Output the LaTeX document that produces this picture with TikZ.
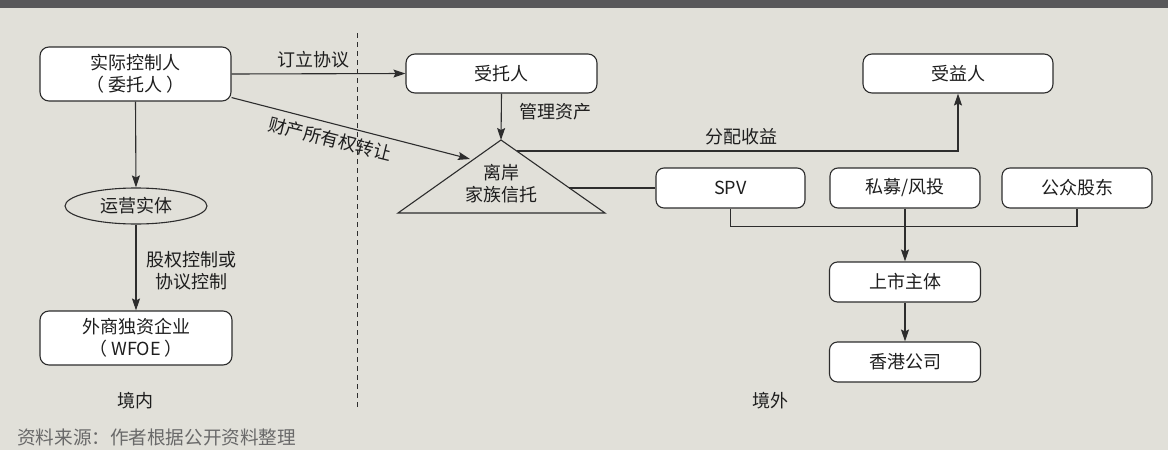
\documentclass[tikz,border=0pt]{standalone}
\usepackage{fontspec}
\setmainfont{Noto Sans CJK SC}
\usetikzlibrary{arrows.meta,calc,shapes.geometric}
\definecolor{bg}{RGB}{225,224,217}
\definecolor{band}{RGB}{88,88,90}
\definecolor{ln}{RGB}{45,45,45}
\definecolor{txt}{RGB}{30,30,30}
\definecolor{src}{RGB}{105,105,105}
\begin{document}
\begin{tikzpicture}[x=1pt,y=-1pt,
  box/.style={draw=ln, line width=1.1pt, fill=white, rounded corners=9pt, inner sep=0pt, align=center, text=txt, font=\fontsize{18}{22}\selectfont},
  lbl/.style={text=txt, font=\fontsize{18}{22}\selectfont, inner sep=0pt, align=center},
  conn/.style={draw=ln, line width=1.1pt},
  arr/.style={conn, -{Stealth[length=12pt,width=8pt,inset=2pt]}}]
\fill[bg] (0,0) rectangle (1168,450);
\fill[band] (0,0) rectangle (1168,8);
\useasboundingbox (0,0) rectangle (1168,450);
% dashed border line
\coordinate (dTop) at (357,33);
\coordinate (dBot) at (357,408);
\draw[ln, line width=0.9pt, dash pattern=on 5pt off 4pt] (dTop) -- (dBot);
% nodes
\node[box, minimum width=191pt, minimum height=54pt] (ctrl) at (135.5,74) {实际控制人\\（ 委托人 ）};
\node[box, minimum width=191pt, minimum height=39pt] (trustee) at (501.5,73.5) {受托人};
\node[box, minimum width=190pt, minimum height=39pt] (benef) at (958,73.5) {受益人};
\node[box, minimum width=149pt, minimum height=40pt, rounded corners=8pt] (spv) at (730.5,188) {SPV};
\node[box, minimum width=150pt, minimum height=40pt, rounded corners=8pt] (pe) at (905,188) {私募/风投};
\node[box, minimum width=150pt, minimum height=40pt, rounded corners=8pt] (pub) at (1077,188) {公众股东};
\node[box, minimum width=151pt, minimum height=40pt, rounded corners=8pt] (listed) at (905,282) {上市主体};
\node[box, minimum width=151pt, minimum height=40pt, rounded corners=8pt] (hk) at (905,362) {香港公司};
\node[box, minimum width=192pt, minimum height=54pt] (wfoe) at (136,338) {外商独资企业\\（ WFOE ）};
\node[ellipse, draw=ln, line width=1.1pt, minimum width=142pt, minimum height=36pt, inner sep=0pt, text=txt, font=\fontsize{18}{22}\selectfont] (op) at (136,206) {运营实体};
% triangle
\coordinate (tA) at (501,140);
\coordinate (tL) at (398,213);
\coordinate (tR) at (605,213);
\draw[conn, line join=miter] (tA) -- (tL) -- (tR) -- cycle;
\node[lbl] (trust) at (501,184) {离岸\\家族信托};
\coordinate (tIn) at (470,159);
\coordinate (tOut) at ($(tA)!0.15!(tR)$);
\coordinate (tSide) at ($(tA)!0.658!(tR)$);
% connectors
\draw[arr] (ctrl.east) -- (trustee.west);
\draw[arr] ([yshift=4pt]ctrl.south east) -- (tIn);
\draw[arr] (trustee.south) -- (tA);
\draw[arr] (tOut) -| (benef.south);
\draw[conn] (tSide) -- (spv.west |- tSide);
\draw[arr] (ctrl.south) -- (op.north);
\draw[arr] (op.south) -- (wfoe.north);
\draw[conn] (spv.south) -- ++(0,18) -| (pub.south);
\draw[arr] (pe.south) -- (listed.north);
\draw[arr] (listed.south) -- (hk.north);
% labels
\node[lbl] (l1) at (313,60) {订立协议};
\node[lbl, rotate=-14] (l2) at (330,139) {财产所有权转让};
\node[lbl] (l3) at (555,112) {管理资产};
\node[lbl] (l4) at (741,137) {分配收益};
\node[lbl] (l5) at (191,271) {股权控制或\\协议控制};
\node[lbl] (l6) at (135,401) {境内};
\node[lbl] (l7) at (770,401) {境外};
\node[lbl, anchor=west, text=src, font=\fontsize{18.6}{22}\selectfont] (srcnote) at (17,437) {资料来源：作者根据公开资料整理};
\end{tikzpicture}
\end{document}
